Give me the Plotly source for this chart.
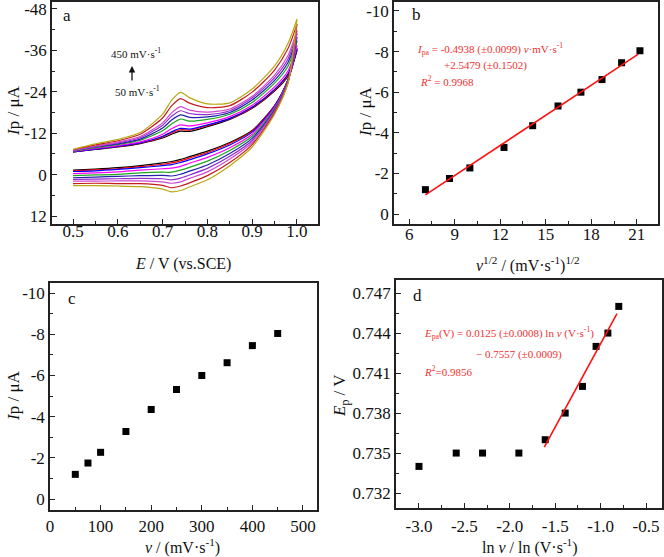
import plotly.graph_objects as go

W, H = 664, 557
def fx(p): return p / W
def fy(p): return 1 - p / H

FONT = "Liberation Serif"

# ---------------- panel a : cyclic voltammograms ----------------
scan_rates = [50, 75, 100, 150, 200, 250, 300, 350, 400, 450]
cv_colors = ["#000000", "#ff0000", "#0000ff", "#ff00ff", "#1fa51f",
             "#2222a8", "#9030d0", "#d048d0", "#c41c1c", "#b8a812"]

E_fwd = [0.50, 0.55, 0.60, 0.65, 0.70, 0.72, 0.74, 0.76, 0.80, 0.85, 0.90, 0.95, 0.98, 1.00]
E_rev = [1.00, 0.98, 0.95, 0.90, 0.85, 0.80, 0.76, 0.74, 0.72, 0.70, 0.65, 0.60, 0.55, 0.50]

fwd_50  = [-6.6, -7.3, -8.0, -9.0, -10.6, -11.7, -12.6, -12.5, -13.9, -16.0, -19.2, -24.2, -28.5, -36.0]
fwd_75  = [-6.6, -7.4, -8.1, -9.1, -10.9, -12.1, -13.0, -12.9, -14.2, -16.2, -19.4, -24.5, -28.9, -36.4]
fwd_100 = [-6.6, -7.4, -8.2, -9.2, -11.1, -12.4, -13.4, -13.2, -14.4, -16.3, -19.6, -24.7, -29.2, -36.6]
fwd_150 = [-6.7, -7.6, -8.4, -9.5, -11.7, -13.3, -14.4, -14.1, -15.0, -16.8, -20.1, -25.4, -30.0, -37.4]
fwd_200 = [-6.8, -7.8, -8.7, -10.0, -12.7, -14.7, -16.1, -15.5, -16.0, -17.5, -20.9, -26.5, -31.4, -38.8]
fwd_250 = [-6.9, -8.0, -8.9, -10.3, -13.5, -15.8, -17.3, -16.6, -16.7, -18.0, -21.6, -27.3, -32.5, -39.8]
fwd_300 = [-7.0, -8.1, -9.2, -10.7, -14.3, -16.9, -18.5, -17.7, -17.4, -18.5, -22.2, -28.1, -33.5, -40.8]
fwd_350 = [-7.0, -8.3, -9.4, -11.0, -15.0, -17.9, -19.7, -18.7, -18.1, -19.0, -22.7, -28.8, -34.5, -41.7]
fwd_400 = [-7.2, -8.6, -9.8, -11.7, -16.4, -19.9, -22.0, -20.7, -19.4, -20.0, -23.9, -30.3, -36.5, -43.6]
fwd_450 = [-7.3, -8.9, -10.2, -12.2, -17.5, -21.5, -23.8, -22.3, -20.5, -20.8, -24.8, -31.5, -38.0, -45.0]

rev_50  = [-36.0, -27.5, -20.0, -12.8, -9.3, -6.8, -5.2, -4.4, -3.8, -3.4, -2.6, -2.0, -1.6, -1.3]
rev_75  = [-36.4, -27.4, -19.9, -12.6, -9.0, -6.4, -4.8, -4.0, -3.4, -3.0, -2.3, -1.7, -1.4, -1.1]
rev_100 = [-36.6, -27.4, -19.8, -12.3, -8.6, -6.0, -4.3, -3.5, -2.9, -2.6, -2.0, -1.5, -1.1, -0.9]
rev_150 = [-37.4, -27.3, -19.5, -11.7, -7.8, -5.0, -3.3, -2.4, -1.9, -1.7, -1.3, -0.8, -0.5, -0.3]
rev_200 = [-38.8, -27.2, -19.1, -11.1, -7.0, -3.9, -2.1, -1.3, -0.7, -0.7, -0.5, -0.1, 0.1, 0.3]
rev_250 = [-39.8, -27.0, -18.8, -10.5, -6.1, -2.8, -1.0, -0.1, 0.4, 0.2, 0.3, 0.5, 0.7, 0.9]
rev_300 = [-40.8, -26.9, -18.5, -9.9, -5.3, -1.8, 0.1, 1.0, 1.5, 1.2, 1.1, 1.2, 1.3, 1.4]
rev_350 = [-41.7, -26.8, -18.2, -9.3, -4.5, -0.8, 1.1, 2.1, 2.5, 2.1, 1.8, 1.8, 1.9, 1.9]
rev_400 = [-43.6, -26.6, -17.9, -8.7, -3.5, 0.3, 2.4, 3.3, 3.8, 3.1, 2.6, 2.6, 2.5, 2.6]
rev_450 = [-45.0, -26.5, -17.5, -8.0, -2.6, 1.5, 3.6, 4.6, 5.0, 4.2, 3.5, 3.3, 3.2, 3.2]

fwd_all = [fwd_50, fwd_75, fwd_100, fwd_150, fwd_200, fwd_250, fwd_300, fwd_350, fwd_400, fwd_450]
rev_all = [rev_50, rev_75, rev_100, rev_150, rev_200, rev_250, rev_300, rev_350, rev_400, rev_450]

a_xticks = [0.5, 0.6, 0.7, 0.8, 0.9, 1.0]
a_xlabels = ["0.5", "0.6", "0.7", "0.8", "0.9", "1.0"]
a_yticks = [-48, -36, -24, -12, 0, 12]
a_ylabels = ["-48", "-36", "-24", "-12", "0", "12"]

# ---------------- panels b, c, d ----------------
v_scan = [50, 75, 100, 150, 200, 250, 300, 350, 400, 450]
v_sqrt = [7.07, 8.66, 10.0, 12.25, 14.14, 15.81, 17.32, 18.71, 20.0, 21.21]
Ip = [-1.2, -1.75, -2.27, -3.28, -4.35, -5.32, -6.0, -6.62, -7.45, -8.04]
ln_v = [-3.00, -2.59, -2.30, -1.90, -1.61, -1.39, -1.20, -1.05, -0.92, -0.80]
Ep = [0.734, 0.735, 0.735, 0.735, 0.736, 0.738, 0.740, 0.743, 0.744, 0.746]

fit_b_slope, fit_b_intercept = -0.4938, 2.5479
fit_b_x = [7.07, 21.1]
fit_d_slope, fit_d_intercept = 0.0125, 0.7557
fit_d_x = [-1.62, -0.82]

b_xticks = [6, 9, 12, 15, 18, 21]
b_xlabels = ["6", "9", "12", "15", "18", "21"]
bc_yticks = [-10, -8, -6, -4, -2, 0]
bc_ylabels = ["-10", "-8", "-6", "-4", "-2", "0"]
c_xticks = [0, 100, 200, 300, 400, 500]
c_xlabels = ["0", "100", "200", "300", "400", "500"]
d_xticks = [-3.0, -2.5, -2.0, -1.5, -1.0, -0.5]
d_xlabels = ["-3.0", "-2.5", "-2.0", "-1.5", "-1.0", "-0.5"]
d_yticks = [0.732, 0.735, 0.738, 0.741, 0.744, 0.747]
d_ylabels = ["0.732", "0.735", "0.738", "0.741", "0.744", "0.747"]

fig = go.Figure()

for rate, col, fw, rv in zip(scan_rates, cv_colors, fwd_all, rev_all):
    fig.add_trace(go.Scatter(x=E_fwd, y=fw, mode="lines", xaxis="x", yaxis="y",
                             line=dict(color=col, width=1.2, shape="spline", smoothing=0.7),
                             showlegend=False, name=f"{rate} fwd"))
    fig.add_trace(go.Scatter(x=E_rev, y=rv, mode="lines", xaxis="x", yaxis="y",
                             line=dict(color=col, width=1.2, shape="spline", smoothing=0.7),
                             showlegend=False, name=f"{rate} rev"))

marker = dict(symbol="square", size=7, color="black")
fig.add_trace(go.Scatter(x=v_sqrt, y=Ip, mode="markers", marker=marker,
                         xaxis="x2", yaxis="y2", showlegend=False))
fig.add_trace(go.Scatter(x=fit_b_x, y=[fit_b_slope * x + fit_b_intercept for x in fit_b_x],
                         mode="lines", line=dict(color="#ff1010", width=1.6),
                         xaxis="x2", yaxis="y2", showlegend=False))
fig.add_trace(go.Scatter(x=v_scan, y=Ip, mode="markers", marker=marker,
                         xaxis="x3", yaxis="y3", showlegend=False))
fig.add_trace(go.Scatter(x=ln_v, y=Ep, mode="markers", marker=marker,
                         xaxis="x4", yaxis="y4", showlegend=False))
fig.add_trace(go.Scatter(x=fit_d_x, y=[fit_d_slope * x + fit_d_intercept for x in fit_d_x],
                         mode="lines", line=dict(color="#ff1010", width=1.6),
                         xaxis="x4", yaxis="y4", showlegend=False))

def axis(domain, rng, tickvals, ticktext, minor_dtick, minor_tick0, anchor, standoff=0):
    return dict(domain=domain, range=rng, tickmode="array", tickvals=tickvals, ticktext=ticktext,
                ticks="inside", ticklen=5, tickwidth=1.2, tickcolor="#222",
                minor=dict(tickmode="linear", dtick=minor_dtick, tick0=minor_tick0,
                           ticks="inside", ticklen=3, tickwidth=1, tickcolor="#222"),
                showline=True, mirror=True, linecolor="#222", linewidth=1.6,
                showgrid=False, zeroline=False, anchor=anchor, automargin=False,
                ticklabeloverflow="allow", ticklabelstandoff=standoff,
                tickfont=dict(family=FONT, size=17, color="#111"))

fig.update_layout(
    template="none",
    width=W, height=H, margin=dict(l=0, r=0, t=0, b=0, pad=0),
    paper_bgcolor="white", plot_bgcolor="white",
    xaxis=axis([fx(52), fx(318)], [0.453, 1.047], a_xticks, a_xlabels, 0.05, 0.45, "y", -9),
    yaxis=axis([fy(224), fy(2)], [14.3, -50.0], a_yticks, a_ylabels, 6, 0, "x"),
    xaxis2=axis([fx(394), fx(658)], [5.0, 22.4], b_xticks, b_xlabels, 1.5, 0, "y2", -6),
    yaxis2=axis([fy(224), fy(2)], [0.49, -10.44], bc_yticks, bc_ylabels, 1, 0, "x2"),
    xaxis3=axis([fx(50), fx(317)], [0, 527.7], c_xticks, c_xlabels, 50, 0, "y3", 0),
    yaxis3=axis([fy(510), fy(283)], [0.53, -10.49], bc_yticks, bc_ylabels, 1, 0, "x3"),
    xaxis4=axis([fx(396), fx(662)], [-3.253, -0.324], d_xticks, d_xlabels, 0.25, 0, "y4", 2),
    yaxis4=axis([fy(508), fy(280)], [0.73088, 0.74798], d_yticks, d_ylabels, 0.0015, 0.732, "x4"),
)

def ann(x, y, text, size=16, color="#111", xanchor="center", angle=0):
    fig.add_annotation(x=fx(x), y=fy(y), xref="paper", yref="paper", text=text,
                       showarrow=False, xanchor=xanchor, yanchor="middle", textangle=angle,
                       font=dict(family=FONT, size=size, color=color))

# panel letters
ann(67, 16, "a", 17)
ann(416, 15, "b", 17)
ann(72, 298, "c", 17)
ann(418, 295, "d", 17)

# axis titles
ann(13, 111, "<i>I</i>p / μA", 17, angle=-90)
ann(183, 264, "<i>E</i> / V (vs.SCE)", 16)
ann(365, 111, "<i>I</i>p / μA", 17, angle=-90)
ann(528, 264, "<i>v</i><sup>1/2</sup> / (mV·s<sup>-1</sup>)<sup>1/2</sup>", 16)
ann(13, 396, "<i>I</i>p / μA", 17, angle=-90)
ann(182, 546, "<i>v</i> / (mV·s<sup>-1</sup>)", 16)
ann(341, 395, "<i>E</i><sub>p</sub> / V", 17, angle=-90)
ann(530, 546, "ln <i>v</i> / ln (V·s<sup>-1</sup>)", 16)

# panel a labels and arrow
ann(136, 53, "450 mV·s<sup>-1</sup>", 11)
ann(137, 91, "50 mV·s<sup>-1</sup>", 11)
fig.add_annotation(x=fx(132), y=fy(66), xref="paper", yref="paper", ax=0, ay=16,
                   axref="pixel", ayref="pixel", text="", showarrow=True,
                   arrowhead=2, arrowsize=1, arrowwidth=1.3, arrowcolor="#111")

RED = "#f03030"
ann(415, 49, "<i>I</i><sub>pa</sub> = -0.4938 (±0.0099) <i>v</i>·mV·s<sup>-1</sup>", 11, RED, "left")
ann(442, 66, "+2.5479 (±0.1502)", 11, RED, "left")
ann(418, 81, "<i>R</i><sup>2</sup> = 0.9968", 11, RED, "left")

ann(422, 333, "<i>E</i><sub>pa</sub>(V) = 0.0125 (±0.0008) ln <i>v</i> (V·s<sup>-1</sup>)", 11, RED, "left")
ann(474, 354, "− 0.7557 (±0.0009)", 11, RED, "left")
ann(422, 371, "<i>R</i><sup>2</sup>=0.9856", 11, RED, "left")

fig.write_html("out.html", config={"displayModeBar": False},
               post_script="document.body.style.margin='0';document.body.style.padding='0';"
                           "document.body.style.overflow='hidden';")
